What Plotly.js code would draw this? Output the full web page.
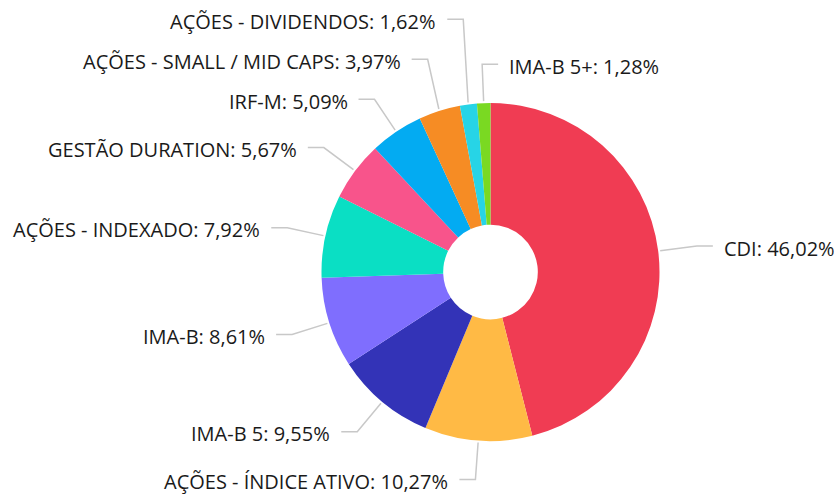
<!DOCTYPE html>
<html>
<head>
<meta charset="utf-8">
<script src="https://cdn.plot.ly/plotly-3.0.1.min.js"></script>
<style>html,body{margin:0;padding:0;background:#fff;}#chart{width:834px;height:494px;}</style>
</head>
<body>
<div id="chart"></div>
<script>
const categories = ["CDI", "AÇÕES - ÍNDICE ATIVO", "IMA-B 5", "IMA-B", "AÇÕES - INDEXADO",
  "GESTÃO DURATION", "IRF-M", "AÇÕES - SMALL / MID CAPS", "AÇÕES - DIVIDENDOS", "IMA-B 5+"];
const values = [46.02, 10.27, 9.55, 8.61, 7.92, 5.67, 5.09, 3.97, 1.62, 1.28];
const colors = ["#F03C53", "#FFBA45", "#3333B7", "#7F6EFE", "#0ADFC4",
  "#F8548B", "#03ABF2", "#F68C24", "#27D4E6", "#7AD922"];

const W = 834, H = 494;
const cx = 490.5, cy = 272, R = 169;
const fmt = v => v.toFixed(2).replace('.', ',') + '%';

const total = values.reduce((a, b) => a + b, 0);
let cum = 0;
const items = values.map((v, i) => {
  const mid = (cum + v / 2) / total;
  cum += v;
  const th = mid * 2 * Math.PI;
  const s = Math.sin(th), c = Math.cos(th);
  return {
    i, s, c,
    side: s < -0.05 ? 'left' : 'right',
    sx: cx + (R + 2) * s, sy: cy - (R + 2) * c,
    ex: cx + 208 * s, ey: cy - 208 * c
  };
});

// spread labels vertically on each side to avoid overlap
['left', 'right'].forEach(side => {
  const list = items.filter(d => d.side === side).sort((a, b) => b.ey - a.ey);
  for (let k = 1; k < list.length; k++) {
    if (list[k].ey > list[k - 1].ey - 40) list[k].ey = list[k - 1].ey - 40;
  }
});

const shapes = [], annotations = [];
items.forEach(d => {
  const dir = d.side === 'left' ? -1 : 1;
  const hx = d.ex + dir * 16;
  shapes.push({
    type: 'path', xref: 'x', yref: 'y',
    path: `M${d.sx},${d.sy} L${d.ex},${d.ey} L${hx},${d.ey}`,
    line: {color: '#c8c8c8', width: 1.5}
  });
  annotations.push({
    xref: 'x', yref: 'y', x: hx + dir * 9, y: d.ey + 2,
    xanchor: d.side === 'left' ? 'right' : 'left', yanchor: 'middle',
    text: categories[d.i] + ': ' + fmt(values[d.i]),
    showarrow: false,
    font: {family: 'Open Sans', size: 20, color: '#1a1a1a'}
  });
});

const pie = {
  type: 'pie',
  labels: categories,
  values: values,
  sort: false,
  direction: 'clockwise',
  rotation: 0,
  hole: 0.28,
  textinfo: 'none',
  hoverinfo: 'label+percent',
  marker: {colors: colors, line: {width: 0}},
  domain: {x: [(cx - R) / W, (cx + R) / W], y: [(H - (cy + R)) / H, (H - (cy - R)) / H]},
  showlegend: false
};
const dummy = {type: 'scatter', x: [], y: [], hoverinfo: 'skip', showlegend: false};

const layout = {
  width: W, height: H,
  margin: {l: 0, r: 0, t: 0, b: 0},
  paper_bgcolor: '#fff', plot_bgcolor: 'rgba(0,0,0,0)',
  showlegend: false,
  xaxis: {range: [0, W], visible: false, fixedrange: true},
  yaxis: {range: [H, 0], visible: false, fixedrange: true},
  shapes: shapes,
  annotations: annotations
};
Plotly.newPlot('chart', [dummy, pie], layout, {displayModeBar: false, staticPlot: true});
</script>
</body>
</html>
